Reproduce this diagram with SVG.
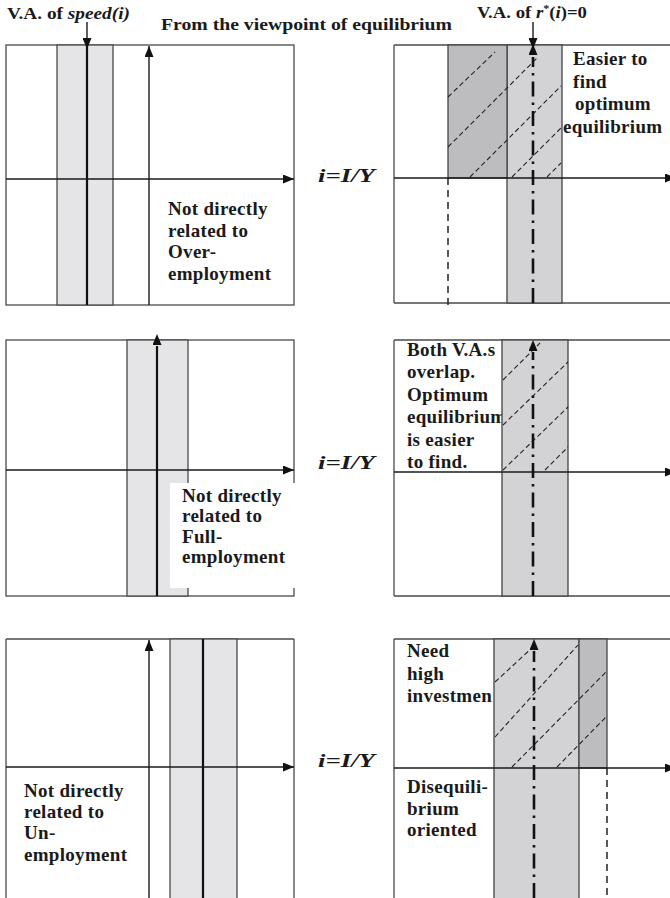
<svg xmlns="http://www.w3.org/2000/svg" width="670" height="898" viewBox="0 0 670 898">
<style>
.box{fill:none;stroke:#4a4a4a;stroke-width:1.3}
.bandL{fill:#e5e5e7;stroke:#4a4a4a;stroke-width:1.3}
.bandR{fill:#d3d3d5;stroke:#444;stroke-width:1.3}
.bandD{fill:#bdbdbf;stroke:#444;stroke-width:1.3}
.axis{stroke:#1a1a1a;stroke-width:1.4;fill:none}
.thick{stroke:#111;stroke-width:2.2;fill:none}
.dashdot{stroke:#111;stroke-width:2.6;fill:none;stroke-dasharray:15 6 2.5 6}
.dash{stroke:#222;stroke-width:1.5;fill:none;stroke-dasharray:7 5}
.hatch{stroke:#222;stroke-width:1.1;fill:none;stroke-dasharray:5 3}
.t{font-family:"Liberation Serif","Times New Roman",serif;font-weight:bold;font-size:19px;letter-spacing:0.3px;fill:#1a1a1a}
.h{font-family:"Liberation Serif","Times New Roman",serif;font-weight:bold;font-size:17px;fill:#1a1a1a}
.lab{font-family:"Liberation Serif","Times New Roman",serif;font-weight:bold;font-style:italic;font-size:18px;fill:#1a1a1a}
</style>
<defs>
<marker id="arr" markerUnits="userSpaceOnUse" markerWidth="11" markerHeight="9" refX="11" refY="4.5" orient="auto">
<path d="M0,0 L11,4.5 L0,9 z" fill="#111"/>
</marker>
</defs>
<rect width="670" height="898" fill="#fff"/>

<g id="headers">
<text class="h" x="7" y="19" textLength="123" lengthAdjust="spacingAndGlyphs">V.A. of <tspan font-style="italic">speed(i)</tspan></text>
<text class="h" x="161" y="30" textLength="291" lengthAdjust="spacingAndGlyphs">From the viewpoint of equilibrium</text>
<text class="h" x="477" y="18" textLength="110" lengthAdjust="spacingAndGlyphs">V.A. of <tspan font-style="italic">r</tspan><tspan font-size="11" dy="-6">*</tspan><tspan dy="6">(</tspan><tspan font-style="italic">i</tspan>)=0</text>
</g>

<g id="panel-over">
<rect class="box" x="6" y="45" width="288" height="260"/>
<rect class="bandL" x="57" y="45" width="56" height="260"/>
<line class="thick" x1="87" y1="45" x2="87" y2="305"/>
<line class="axis" x1="6" y1="179" x2="294" y2="179" marker-end="url(#arr)"/>
<line class="axis" x1="149" y1="305" x2="149" y2="46" marker-end="url(#arr)"/>
<text class="t" x="168" y="215">Not directly</text>
<text class="t" x="168" y="237">related to</text>
<text class="t" x="168" y="258">Over-</text>
<text class="t" x="168" y="280">employment</text>
</g>

<g id="label-1"><text class="lab" x="318" y="182" textLength="57" lengthAdjust="spacingAndGlyphs">i=I/Y</text></g>

<g id="panel-easier">
<line class="box" x1="394" y1="45" x2="670" y2="45"/>
<line class="box" x1="394" y1="303" x2="670" y2="303"/>
<line class="box" x1="394" y1="45" x2="394" y2="303"/>
<rect class="bandR" x="507" y="45" width="55" height="258"/>
<rect class="bandD" x="448" y="45" width="59" height="133"/>
<line class="dash" x1="448" y1="178" x2="448" y2="309"/>
<line class="hatch" x1="448" y1="97" x2="495" y2="52"/>
<line class="hatch" x1="448" y1="147" x2="537" y2="58"/>
<line class="hatch" x1="470" y1="177" x2="561" y2="86"/>
<line class="hatch" x1="512" y1="177" x2="561" y2="128"/>
<line class="hatch" x1="547" y1="177" x2="561" y2="163"/>
<line class="axis" x1="394" y1="178" x2="676" y2="178" marker-end="url(#arr)"/>
<line class="dashdot" x1="533" y1="303" x2="533" y2="57"/>
<line x1="533" y1="60" x2="533" y2="44" stroke="none" marker-end="url(#arr)"/>
<text class="t" x="573" y="65">Easier to</text>
<text class="t" x="573" y="88">find</text>
<text class="t" x="575" y="110">optimum</text>
<text class="t" x="563" y="133">equilibrium</text>
</g>

<g id="panel-full">
<rect class="box" x="6" y="340" width="288" height="256"/>
<rect class="bandL" x="127" y="340" width="61" height="256"/>
<line class="axis" x1="6" y1="470" x2="294" y2="470" marker-end="url(#arr)"/>
<line class="thick" x1="157" y1="596" x2="157" y2="346"/>
<line x1="157" y1="350" x2="157" y2="334" stroke="none" marker-end="url(#arr)"/>
<rect x="170" y="483" width="126" height="105" fill="#fff"/>
<text class="t" x="182" y="502" font-size="18">Not directly</text>
<text class="t" x="182" y="522" font-size="18">related to</text>
<text class="t" x="182" y="543" font-size="18">Full-</text>
<text class="t" x="182" y="563" font-size="18">employment</text>
</g>

<g id="label-2"><text class="lab" x="318" y="469" textLength="57" lengthAdjust="spacingAndGlyphs">i=I/Y</text></g>

<g id="panel-overlap">
<line class="box" x1="394" y1="340" x2="670" y2="340"/>
<line class="box" x1="394" y1="596" x2="670" y2="596"/>
<line class="box" x1="394" y1="340" x2="394" y2="596"/>
<text class="t" x="407" y="356">Both V.A.s</text>
<text class="t" x="407" y="378">overlap.</text>
<text class="t" x="407" y="401">Optimum</text>
<text class="t" x="407" y="423">equilibrium</text>
<text class="t" x="407" y="446">is easier</text>
<text class="t" x="407" y="468">to find.</text>
<rect class="bandR" x="502" y="340" width="66" height="256"/>
<line class="hatch" x1="503" y1="380" x2="540" y2="343"/>
<line class="hatch" x1="503" y1="425" x2="568" y2="362"/>
<line class="hatch" x1="503" y1="470" x2="568" y2="407"/>
<line class="hatch" x1="545" y1="470" x2="568" y2="447"/>
<line class="axis" x1="394" y1="472" x2="676" y2="472" marker-end="url(#arr)"/>
<line class="dashdot" x1="533" y1="596" x2="533" y2="352"/>
<line x1="533" y1="356" x2="533" y2="340" stroke="none" marker-end="url(#arr)"/>
</g>

<g id="panel-un">
<line class="box" x1="6" y1="639" x2="294" y2="639"/>
<line class="box" x1="6" y1="639" x2="6" y2="898"/>
<line class="box" x1="294" y1="639" x2="294" y2="898"/>
<rect class="bandL" x="170" y="639" width="67" height="262"/>
<line class="thick" x1="203" y1="639" x2="203" y2="898"/>
<line class="axis" x1="6" y1="767" x2="294" y2="767" marker-end="url(#arr)"/>
<line class="axis" x1="149" y1="898" x2="149" y2="640" marker-end="url(#arr)"/>
<text class="t" x="24" y="797">Not directly</text>
<text class="t" x="24" y="818">related to</text>
<text class="t" x="24" y="839">Un-</text>
<text class="t" x="24" y="861">employment</text>
</g>

<g id="label-3"><text class="lab" x="318" y="767" textLength="57" lengthAdjust="spacingAndGlyphs">i=I/Y</text></g>

<g id="panel-diseq">
<line class="box" x1="394" y1="639" x2="670" y2="639"/>
<line class="box" x1="394" y1="639" x2="394" y2="898"/>
<text class="t" x="407" y="657">Need</text>
<text class="t" x="407" y="680">high</text>
<text class="t" x="407" y="702">investmen</text>
<rect class="bandR" x="494" y="639" width="85" height="262"/>
<rect class="bandD" x="579" y="639" width="28" height="129"/>
<line class="dash" x1="607" y1="768" x2="607" y2="898"/>
<line class="hatch" x1="495" y1="682" x2="533" y2="647"/>
<line class="hatch" x1="495" y1="737" x2="578" y2="645"/>
<line class="hatch" x1="512" y1="767" x2="606" y2="672"/>
<line class="hatch" x1="557" y1="767" x2="606" y2="717"/>
<line class="axis" x1="394" y1="768" x2="676" y2="768" marker-end="url(#arr)"/>
<line class="dashdot" x1="534" y1="898" x2="534" y2="651"/>
<line x1="534" y1="655" x2="534" y2="639" stroke="none" marker-end="url(#arr)"/>
<text class="t" x="407" y="793">Disequili-</text>
<text class="t" x="407" y="815">brium</text>
<text class="t" x="407" y="836">oriented</text>
</g>

<g id="connectors">
<line class="axis" x1="87" y1="22" x2="87" y2="49" marker-end="url(#arr)"/>
<line class="axis" x1="533" y1="22" x2="533" y2="49" marker-end="url(#arr)"/>
</g>
</svg>
